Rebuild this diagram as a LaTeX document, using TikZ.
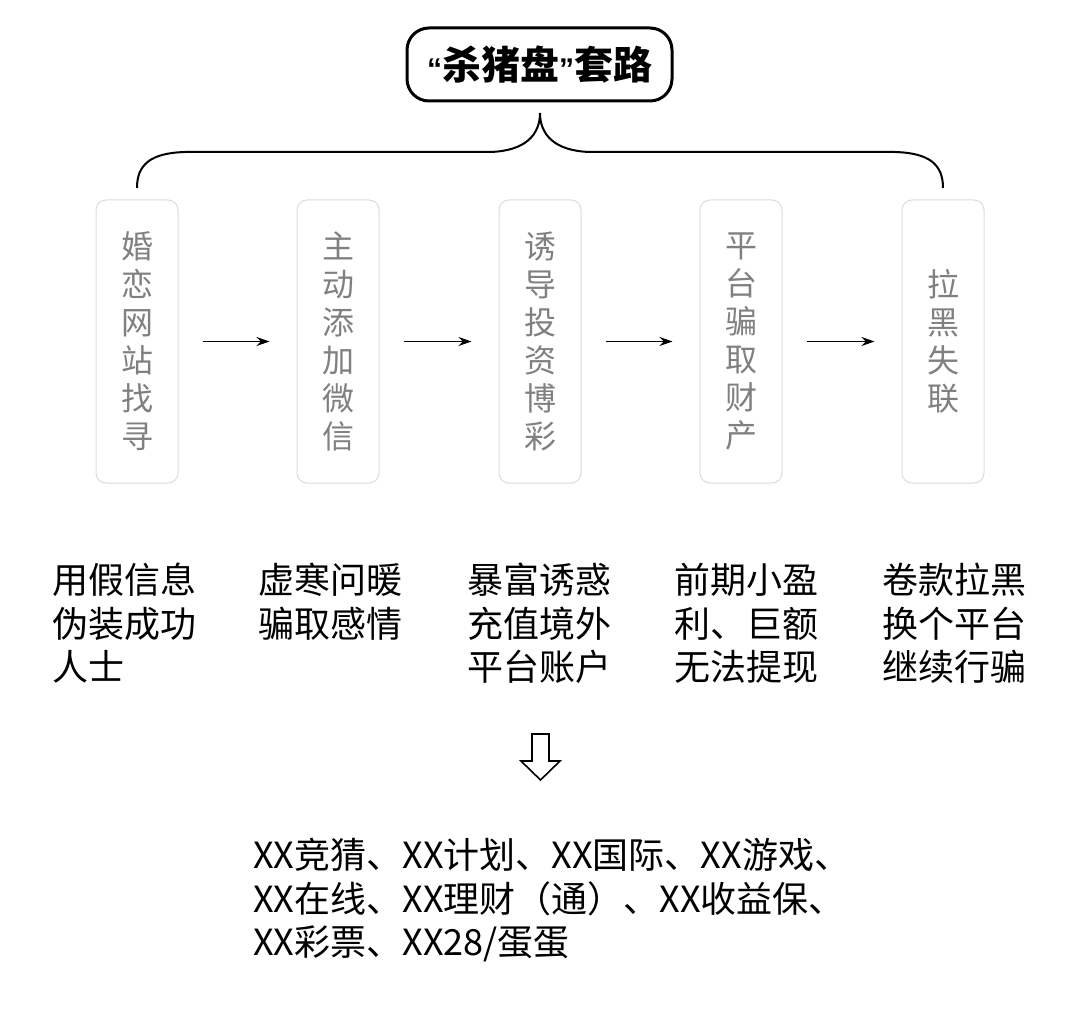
\documentclass[tikz,border=0pt]{standalone}
\usepackage{fontspec}
\newfontfamily\cjk{Noto Sans CJK SC}
\newfontfamily\latinq{Liberation Sans}
\usetikzlibrary{arrows.meta}
\newcommand{\myopenq}{{\latinq\bfseries\fontsize{30}{36}\selectfont “}}
\newcommand{\mycloseq}{{\latinq\bfseries\fontsize{30}{36}\selectfont ”}}
\tikzset{
  titlebox/.style={draw, line width=3pt, rounded corners=22pt, minimum width=265pt, minimum height=73pt, inner sep=0pt,
    font=\cjk\bfseries\fontsize{39}{44}\selectfont},
  stepbox/.style={draw=black!14, line width=1pt, rounded corners=10pt, minimum width=82pt, minimum height=283pt,
    inner sep=0pt, align=center, text=black!50, font=\cjk\fontsize{32}{38}\selectfont},
  desc/.style={anchor=north west, inner sep=0pt, align=left, font=\cjk\fontsize{36}{43.5}\selectfont},
  flow/.style={line width=1.5pt, -{Stealth[length=13pt,width=9pt]}, shorten <=24pt, shorten >=27pt},
  brace/.style={line width=2pt},
  hollow/.style={line width=1.6pt, line join=miter}
}
\begin{document}
\begin{tikzpicture}[x=1pt,y=-1pt]
\useasboundingbox (0,0) rectangle (1080,1019);

\node[titlebox] (title) at (539.5,64.5) {\myopenq 杀猪盘\mycloseq 套路};

\draw[brace] (137,188) .. controls (137,165) and (150,153) .. (185,152) -- (490,152)
  .. controls (525,151) and (540,135) .. (540,113)
  .. controls (540,135) and (555,151) .. (590,152) -- (895,152)
  .. controls (930,153) and (943,165) .. (943,188);

\node[stepbox] (b1) at (137,341.5) {婚\\恋\\网\\站\\找\\寻};
\node[stepbox] (b2) at (338,341.5) {主\\动\\添\\加\\微\\信};
\node[stepbox] (b3) at (540,341.5) {诱\\导\\投\\资\\博\\彩};
\node[stepbox] (b4) at (741,341.5) {平\\台\\骗\\取\\财\\产};
\node[stepbox] (b5) at (943,341.5) {拉\\黑\\失\\联};

\draw[flow] (b1) -- (b2);
\draw[flow] (b2) -- (b3);
\draw[flow] (b3) -- (b4);
\draw[flow] (b4) -- (b5);

\node[desc] (d1) at (52,563) {用假信息\\伪装成功\\人士};
\node[desc] (d2) at (258,563) {虚寒问暖\\骗取感情};
\node[desc] (d3) at (467,563) {暴富诱惑\\充值境外\\平台账户};
\node[desc] (d4) at (674,563) {前期小盈\\利、巨额\\无法提现};
\node[desc] (d5) at (882,563) {卷款拉黑\\换个平台\\继续行骗};

\draw[hollow] (532,734) -- (549,734) -- (549,761) -- (560,761) -- (540.5,780) -- (521,761) -- (532,761) -- cycle;

\node[desc] (list) at (253,838) {XX竞猜、XX计划、XX国际、XX游戏、\\XX在线、XX理财（通）、XX收益保、\\XX彩票、XX28/蛋蛋};
\end{tikzpicture}
\end{document}
